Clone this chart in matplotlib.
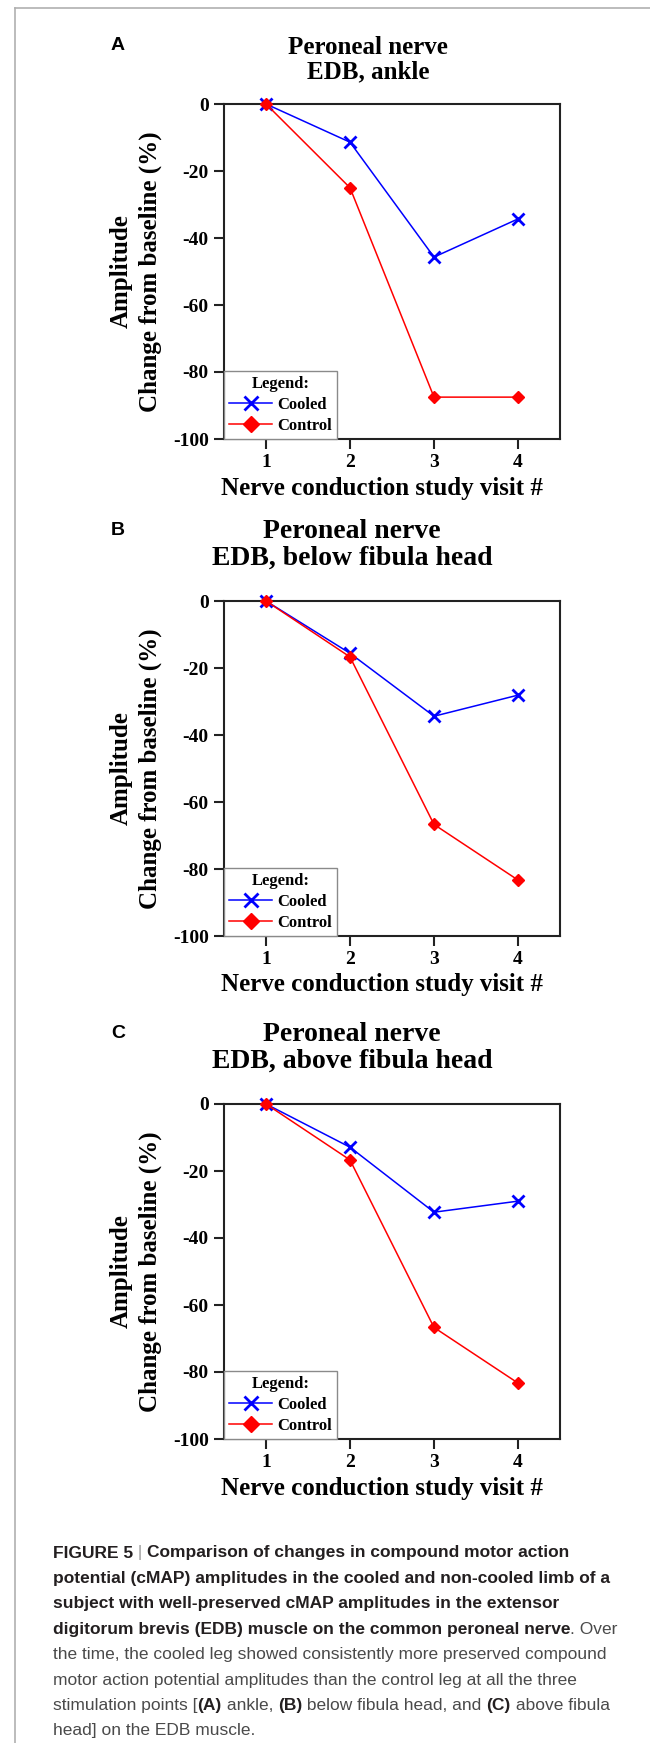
import matplotlib
matplotlib.use('Agg')
import matplotlib.pyplot as plt
from matplotlib.lines import Line2D

plt.rcParams['axes.unicode_minus'] = False

# figure size in pixels
W, H = 650, 1743
DPI = 100

visits = [1, 2, 3, 4]
yticks = [0, -20, -40, -60, -80, -100]

# % change of cMAP amplitude from baseline
ankle_cooled = [0, -11.4, -45.7, -34.3]
ankle_control = [0, -25.0, -87.5, -87.5]
below_cooled = [0, -15.6, -34.4, -28.1]
below_control = [0, -16.7, -66.7, -83.3]
above_cooled = [0, -12.9, -32.3, -29.0]
above_control = [0, -16.7, -66.7, -83.3]

panel_letters = ['A', 'B', 'C']
title_top = ['Peroneal nerve', 'Peroneal nerve', 'Peroneal nerve']
title_bottom = ['EDB, ankle', 'EDB, below fibula head', 'EDB, above fibula head']
series_cooled = [ankle_cooled, below_cooled, above_cooled]
series_control = [ankle_control, below_control, above_control]

caption_lines = [
    [('FIGURE 5', 'b'), (' | ', 'bar'), ('Comparison of changes in compound motor action', 'b')],
    [('potential (cMAP) amplitudes in the cooled and non-cooled limb of a', 'b')],
    [('subject with well-preserved cMAP amplitudes in the extensor', 'b')],
    [('digitorum brevis (EDB) muscle on the common peroneal nerve', 'b'), ('. Over', 'r')],
    [('the time, the cooled leg showed consistently more preserved compound', 'r')],
    [('motor action potential amplitudes than the control leg at all the three', 'r')],
    [('stimulation points [', 'r'), ('(A)', 'b'), (' ankle, ', 'r'), ('(B)', 'b'),
     (' below fibula head, and ', 'r'), ('(C)', 'b'), (' above fibula', 'r')],
    [('head] on the EDB muscle.', 'r')],
]

SERIF = 'Liberation Serif'
SANS = 'Liberation Sans'


def fx(x):
    return x / W


def fy(y):
    return 1 - y / H


fig = plt.figure(figsize=(W / DPI, H / DPI), dpi=DPI)
fig.patch.set_facecolor('white')

# light page frame on top and left
fig.add_artist(Line2D([fx(15), fx(15)], [fy(8), 0], color='#b0b0b0', lw=1.2))
fig.add_artist(Line2D([fx(15), 1], [fy(8), fy(8)], color='#b0b0b0', lw=1.2))

# pixel layout of each panel: axes top, axes bottom, title centre y, title x, title size
panels = [
    (104, 439, 60, 368, 18),
    (601, 936, 545, 352, 20),
    (1104, 1439, 1048, 352, 20),
]
ax_left, ax_right = 224, 560

for i, (top, bot, ty, tx, tsize) in enumerate(panels):
    ax = fig.add_axes([fx(ax_left), fy(bot), (ax_right - ax_left) / W, (bot - top) / H])
    ax.plot(visits, series_cooled[i], color='#0000ff', lw=1.1, marker='x', ms=8, mew=2,
            label='Cooled', clip_on=False, zorder=3)
    ax.plot(visits, series_control[i], color='#ff0000', lw=1.1, marker='D', ms=6,
            label='Control', clip_on=False, zorder=4)
    ax.set_xlim(0.5, 4.5)
    ax.set_ylim(-100, 0)
    ax.set_xticks(visits)
    ax.set_yticks(yticks)
    ax.tick_params(direction='out', length=7, width=1.5, color='#222222', pad=4)
    for lab in ax.get_xticklabels() + ax.get_yticklabels():
        lab.set_fontfamily(SERIF)
        lab.set_fontweight('bold')
        lab.set_fontsize(14)
    for sp in ax.spines.values():
        sp.set_linewidth(1.5)
        sp.set_color('#222222')

    leg = ax.legend(title='Legend:', loc='lower left', borderaxespad=0, fancybox=False,
                    edgecolor='#8a8a8a', framealpha=1,
                    prop={'family': SERIF, 'weight': 'bold', 'size': 12},
                    title_fontproperties={'family': SERIF, 'weight': 'bold', 'size': 12},
                    handlelength=2.6, markerscale=1.3, labelspacing=0.3,
                    borderpad=0.3, handletextpad=0.3)
    leg.get_frame().set_linewidth(1.0)

    # titles
    fig.text(fx(tx), fy(ty), title_top[i] + '\n' + title_bottom[i], ha='center', va='center',
             family=SERIF, weight='bold', size=tsize, linespacing=1.08)
    fig.text(fx(118), fy(ty - 14), panel_letters[i], ha='center', va='center',
             family=SANS, weight='bold', size=14)

    # axis labels
    fig.text(fx(382), fy(bot + 49), 'Nerve conduction study visit #', ha='center', va='center',
             family=SERIF, weight='bold', size=18)
    mid = (top + bot) / 2
    fig.text(fx(121), fy(mid), 'Amplitude', rotation=90, ha='center', va='center',
             family=SERIF, weight='bold', size=18)
    fig.text(fx(150), fy(mid), 'Change from baseline (%)', rotation=90, ha='center',
             va='center', family=SERIF, weight='bold', size=18)

# caption, drawn piece by piece to mix bold and regular
renderer = fig.canvas.get_renderer()
styles = {
    'b': dict(weight='bold', color='#231f20'),
    'r': dict(weight='normal', color='#4a4a4a'),
    'bar': dict(weight='normal', color='#9a9a9a'),
}
cap_y = 1553
for k, line in enumerate(caption_lines):
    x = 53
    y = cap_y + 25.4 * k
    for txt, st in line:
        t = fig.text(fx(x), fy(y), txt, ha='left', va='center', family=SANS, size=12.5,
                     **styles[st])
        bb = t.get_window_extent(renderer)
        x = bb.x1

fig.savefig('out.png', dpi=DPI)
